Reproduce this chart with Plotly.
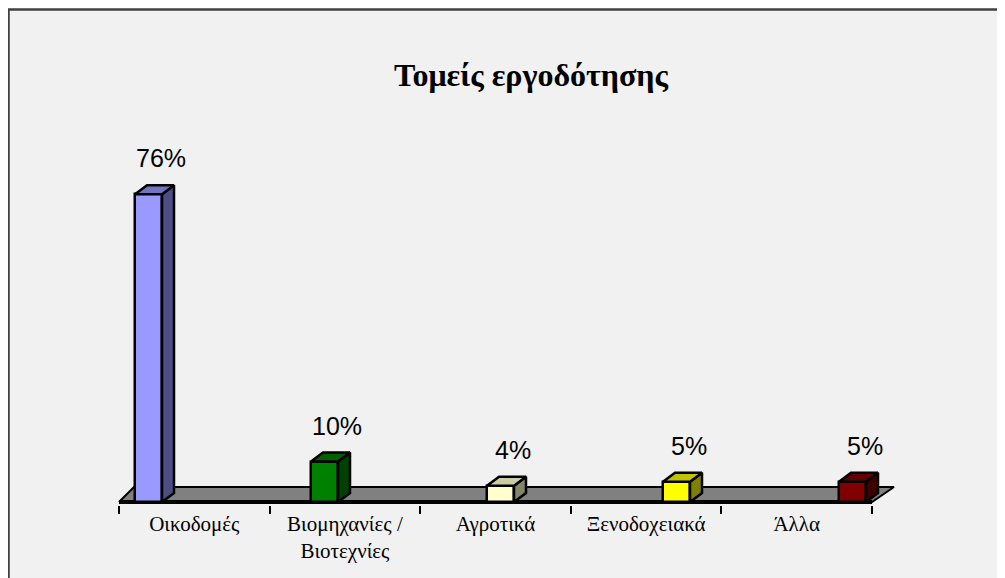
import plotly.graph_objects as go

# ---- data ----
categories = ["Οικοδομές", "Βιομηχανίες /<br>Βιοτεχνίες", "Αγροτικά", "Ξενοδοχειακά", "Άλλα"]
values = [76, 10, 4, 5, 5]
value_labels = ["76%", "10%", "4%", "5%", "5%"]
front_colors = ["#9999FF", "#008000", "#FFFFCC", "#FFFF00", "#800000"]
side_colors = ["#4D4D85", "#004000", "#85856A", "#808000", "#400000"]
top_colors = ["#7373C2", "#006000", "#CCCCA3", "#C2C200", "#600000"]
title_text = "Τομείς εργοδότησης"

# ---- geometry ----
W, H = 1005, 578
OFF = 7  # page offset of the rendered figure
def fx(p):  # reference pixel -> figure pixel
    return p - OFF

ML, MR, MT = 100, 80, 100
plot_bottom = fx(504)
MB = H - plot_bottom
plot_w = W - ML - MR
plot_h = H - MT - MB
px_per_y = 4.05
y0_px = fx(501)
ymin = -(plot_bottom - y0_px) / px_per_y
ymax = (y0_px - MT) / px_per_y

floor_ppu = 150.6
floor_left_px = fx(118)
x1_lo = -0.5 - (floor_left_px - ML) / floor_ppu
x1_hi = x1_lo + plot_w / floor_ppu

bar_ppu = 176.0
bar0_px = fx(147.5)
x2_lo = -(bar0_px - ML) / bar_ppu
x2_hi = x2_lo + plot_w / bar_ppu
bar_w = 27 / bar_ppu
ddx = 12 / bar_ppu
ddy = 9 / px_per_y

n = len(categories)
idx = list(range(n))

fig = go.Figure()

fdy = 15 / px_per_y
fl_dx = 15 / floor_ppu
fr_dx = 22 / floor_ppu
fig.add_trace(go.Scatter(
    x=[-0.5, n - 0.5, n - 0.5 + fr_dx, -0.5 + fl_dx, -0.5],
    y=[0, 0, fdy, fdy, 0],
    fill="toself", fillcolor="#808080", mode="lines",
    line=dict(color="black", width=2), hoverinfo="skip", showlegend=False,
    xaxis="x", yaxis="y"))
fig.add_trace(go.Scatter(
    x=[-0.5, n - 0.5], y=[0, 0], mode="lines",
    line=dict(color="black", width=4), hoverinfo="skip", showlegend=False,
    xaxis="x", yaxis="y"))

fig.add_trace(go.Bar(
    x=idx, y=values, width=bar_w,
    marker=dict(color=front_colors, line=dict(color="black", width=2.5)),
    showlegend=False, hoverinfo="skip", xaxis="x2", yaxis="y"))

for i, v in enumerate(values):
    xr = i + bar_w / 2
    xl = i - bar_w / 2
    fig.add_trace(go.Scatter(
        x=[xr, xr + ddx, xr + ddx, xr, xr], y=[0, ddy, v + ddy, v, 0],
        fill="toself", fillcolor=side_colors[i], mode="lines",
        line=dict(color="black", width=2.5), hoverinfo="skip", showlegend=False,
        xaxis="x2", yaxis="y"))
    fig.add_trace(go.Scatter(
        x=[xl, xr, xr + ddx, xl + ddx, xl], y=[v, v, v + ddy, v + ddy, v],
        fill="toself", fillcolor=top_colors[i], mode="lines",
        line=dict(color="black", width=2.5), hoverinfo="skip", showlegend=False,
        xaxis="x2", yaxis="y"))

annotations = []
for i, (v, t) in enumerate(zip(values, value_labels)):
    annotations.append(dict(
        x=i, y=v, xref="x2", yref="y", text=t, showarrow=False,
        xshift=12, yshift=36, yanchor="middle",
        font=dict(family="Liberation Sans, Arial", size=25, color="black")))

def px_x(p):
    return (p - ML) / plot_w

def px_y(p):
    return (H - MB - p) / plot_h

shapes = [
    dict(type="rect", xref="paper", yref="paper", layer="below",
         x0=px_x(fx(7.5)), x1=px_x(W + 20), y0=px_y(fx(8.5)), y1=px_y(H + 20),
         fillcolor="#F1F1F1", line=dict(color="#404040", width=2.5)),
]

fig.update_layout(
    width=W, height=H,
    margin=dict(l=ML, r=MR, t=MT, b=MB),
    paper_bgcolor="white", plot_bgcolor="rgba(0,0,0,0)",
    title=dict(text="<b>" + title_text + "</b>", xref="container", yref="container",
               x=fx(530) / W, y=1 - fx(74) / H, xanchor="center", yanchor="middle",
               font=dict(family="Liberation Serif, Times New Roman", size=32, color="black")),
    xaxis=dict(range=[x1_lo, x1_hi], showgrid=False, zeroline=False, showline=False,
               tickvals=idx, ticktext=categories, ticks="", ticklabelstandoff=4,
               tickfont=dict(family="Liberation Serif, Times New Roman", size=21, color="black"),
               minor=dict(tickvals=[i - 0.5 for i in range(n + 1)], ticks="outside",
                          ticklen=8, tickwidth=2, tickcolor="black", showgrid=False)),
    xaxis2=dict(range=[x2_lo, x2_hi], overlaying="x", visible=False, showgrid=False),
    yaxis=dict(range=[ymin, ymax], visible=False, showgrid=False),
    annotations=annotations,
    shapes=shapes,
    bargap=0,
)

fig.write_html("out.html")
